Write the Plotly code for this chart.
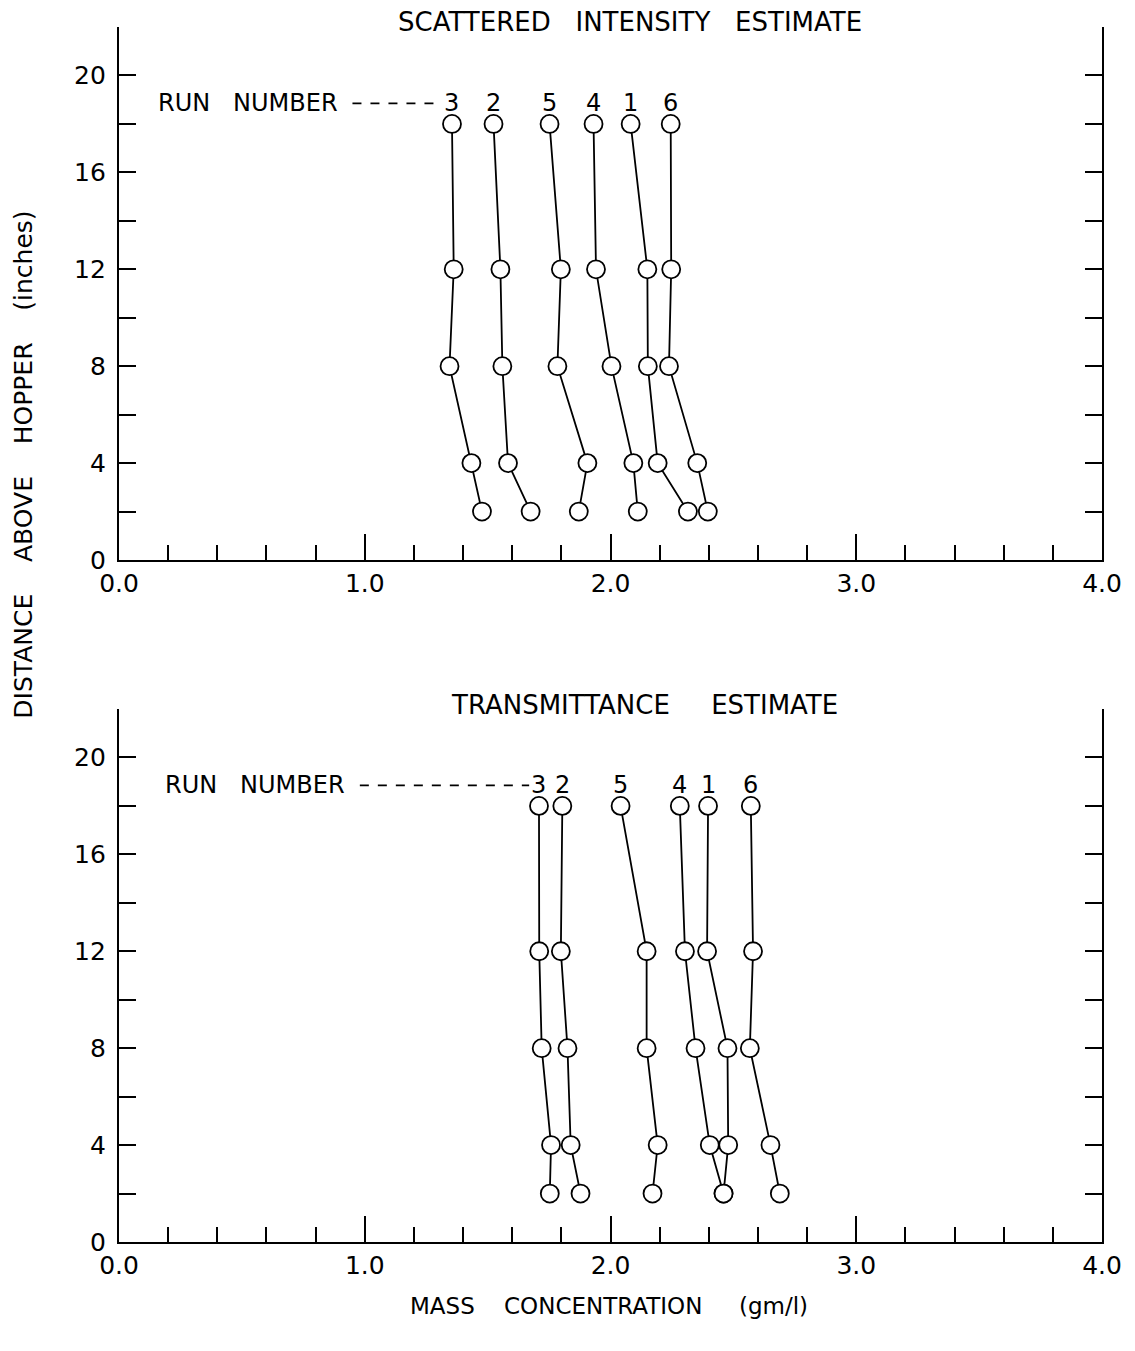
import plotly.graph_objects as go

# ---- data ----
heights = [18, 12, 8, 4, 2]
run_ids = ["3", "2", "5", "4", "1", "6"]

scatter_runs = {
    "3": [1.355, 1.362, 1.345, 1.434, 1.477],
    "2": [1.524, 1.552, 1.560, 1.583, 1.675],
    "5": [1.752, 1.798, 1.784, 1.906, 1.871],
    "4": [1.931, 1.941, 2.004, 2.093, 2.111],
    "1": [2.082, 2.150, 2.152, 2.192, 2.315],
    "6": [2.245, 2.247, 2.238, 2.353, 2.396],
}
trans_runs = {
    "3": [1.709, 1.710, 1.720, 1.758, 1.753],
    "2": [1.804, 1.798, 1.825, 1.838, 1.878],
    "5": [2.041, 2.147, 2.147, 2.192, 2.171],
    "4": [2.282, 2.303, 2.346, 2.404, 2.460],
    "1": [2.397, 2.393, 2.476, 2.479, 2.460],
    "6": [2.571, 2.580, 2.567, 2.651, 2.689],
}
x_tickvals = [0, 1, 2, 3, 4]
x_ticktext = ["0.0", "1.0", "2.0", "3.0", "4.0"]
y_tickvals = [0, 4, 8, 12, 16, 20]
y_ticktext = ["0", "4", "8", "12", "16", "20"]

FONT = "DejaVu Sans"
NB = "\u00a0"

fig = go.Figure()

for axis_suffix, runs in (("", scatter_runs), ("2", trans_runs)):
    for rid in run_ids:
        fig.add_trace(go.Scatter(
            x=runs[rid], y=heights, mode="lines+markers",
            xaxis="x" + axis_suffix, yaxis="y" + axis_suffix,
            line=dict(color="black", width=1.8),
            marker=dict(symbol="circle", size=18, color="white",
                        line=dict(color="black", width=1.8)),
            showlegend=False, hoverinfo="skip",
        ))

def xaxis_cfg(anchor):
    return dict(
        range=[0, 4], anchor=anchor, showgrid=False, zeroline=False,
        showline=True, linecolor="black", linewidth=2.2,
        ticks="inside", ticklen=26, tickwidth=1.8, tickcolor="black",
        tickvals=x_tickvals, ticktext=x_ticktext,
        tickfont=dict(family=FONT, size=25, color="black"),
        minor=dict(dtick=0.2, tick0=0, ticks="inside", ticklen=15,
                   tickwidth=1.8, tickcolor="black", showgrid=False),
        fixedrange=True,
    )

def yaxis_cfg(anchor, domain):
    return dict(
        range=[0, 22], anchor=anchor, domain=domain, showgrid=False,
        zeroline=False, showline=True, linecolor="black", linewidth=2.2,
        mirror="ticks",
        ticks="inside", ticklen=17, tickwidth=1.8, tickcolor="black",
        tickvals=y_tickvals, ticktext=y_ticktext,
        tickfont=dict(family=FONT, size=25, color="black"),
        ticklabelstandoff=6,
        minor=dict(dtick=2, tick0=0, ticks="inside", ticklen=17,
                   tickwidth=1.8, tickcolor="black", showgrid=False),
        fixedrange=True,
    )

annotations = []
shapes = []

panels = [
    ("x", "y", scatter_runs, "SCATTERED" + NB * 3 + "INTENSITY" + NB * 3 + "ESTIMATE",
     0.52, 1.004, 0.15, 0.95),
    ("x2", "y2", trans_runs, "TRANSMITTANCE" + NB * 5 + "ESTIMATE",
     0.535, 0.442, 0.18, 0.98),
]
for xa, ya, runs, title, tx, ty, run_x, dash_start in panels:
    for rid in run_ids:
        annotations.append(dict(
            x=runs[rid][0], y=18.85, xref=xa, yref=ya, text=rid,
            showarrow=False, font=dict(family=FONT, size=24, color="black"),
            xanchor="center", yanchor="middle"))
    annotations.append(dict(
        x=run_x, y=18.85, xref=xa, yref=ya,
        text="RUN" + NB * 3 + "NUMBER", showarrow=False,
        font=dict(family=FONT, size=24, color="black"),
        xanchor="left", yanchor="middle"))
    shapes.append(dict(
        type="line", xref=xa, yref=ya,
        x0=dash_start, x1=runs["3"][0] - 0.04,
        y0=18.85, y1=18.85,
        line=dict(color="black", width=1.8, dash="dash")))
    annotations.append(dict(
        x=tx, y=ty, xref="paper", yref="paper",
        text=title, showarrow=False,
        font=dict(family=FONT, size=26, color="black"),
        xanchor="center", yanchor="middle"))

annotations.append(dict(
    x=0.498, y=-0.040, xref="paper", yref="paper",
    text="MASS" + NB * 4 + "CONCENTRATION" + NB * 5 + "(gm/l)",
    showarrow=False, font=dict(family=FONT, size=23, color="black"),
    xanchor="center", yanchor="top"))
annotations.append(dict(
    x=-0.098, y=0.6395, xref="paper", yref="paper",
    text="DISTANCE" + NB * 4 + "ABOVE" + NB * 4 + "HOPPER" + NB * 4 + "(inches)",
    textangle=-90, showarrow=False,
    font=dict(family=FONT, size=25, color="black"),
    xanchor="center", yanchor="middle"))

fig.update_layout(
    width=1135, height=1351,
    margin=dict(l=119, r=33, t=27, b=109),
    paper_bgcolor="white", plot_bgcolor="white",
    xaxis=xaxis_cfg("y"),
    yaxis=yaxis_cfg("x", [0.5613, 1.0]),
    xaxis2=xaxis_cfg("y2"),
    yaxis2=yaxis_cfg("x2", [0.0, 0.4387]),
    annotations=annotations,
    shapes=shapes,
    showlegend=False,
)

fig.write_html("out.html")
